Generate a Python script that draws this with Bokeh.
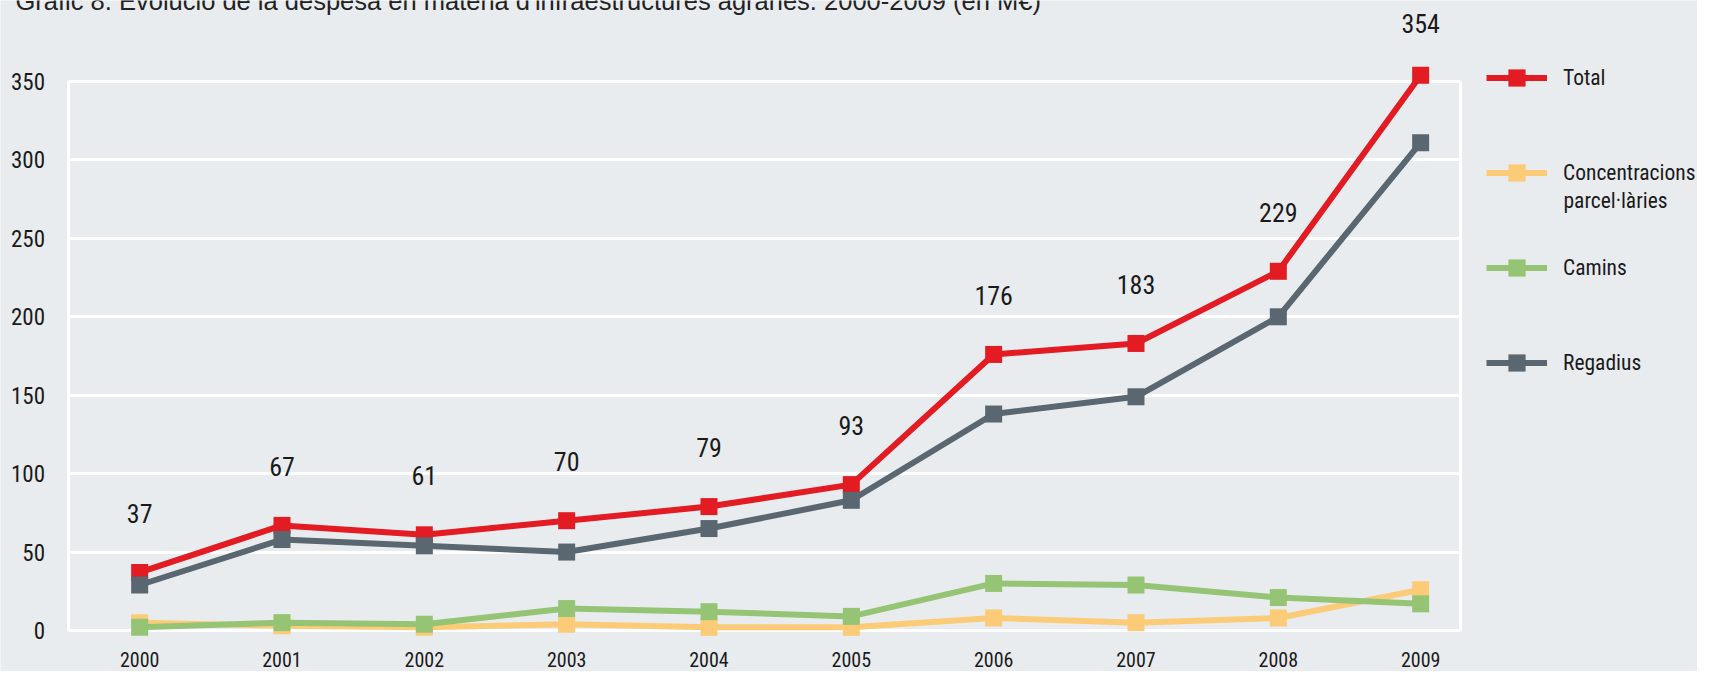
from bokeh.plotting import figure
from bokeh.models import (ColumnDataSource, LabelSet, Label, Legend, LegendItem,
                          FixedTicker, Range1d, Grid)
from bokeh.core.properties import value
from bokeh.embed import file_html
from bokeh.resources import INLINE

# ---- data ----
years = [2000, 2001, 2002, 2003, 2004, 2005, 2006, 2007, 2008, 2009]
year_labels = [str(y) for y in years]
total = [37, 67, 61, 70, 79, 93, 176, 183, 229, 354]
concentracions = [5, 3, 2, 4, 2, 2, 8, 5, 8, 26]
camins = [2, 5, 4, 14, 12, 9, 30, 29, 21, 17]
regadius = [29, 58, 54, 50, 65, 83, 138, 149, 200, 311]
total_labels = [str(v) for v in total]
y_ticks = [0, 50, 100, 150, 200, 250, 300, 350]
y_tick_labels = [str(v) for v in y_ticks]
title_text = "Gràfic 8. Evolució de la despesa en matèria d'infraestructures agràries. 2000-2009 (en M€)"

# ---- style / layout ----
NARROW = "Liberation Sans Narrow, Roboto Condensed, Open Sans Condensed, DejaVu Sans Condensed, Roboto"
BG = "#E9ECEF"
TXT = "#1A1A1A"
W, H = 1697, 671
BOX_L, BOX_R = 68, 1460            # grid box, canvas px
BOX_T, BOX_B = 81, 630
x_lo, x_hi = years[0] - 0.5, years[-1] + 0.28
y_lo, y_hi = 0, 350
ppx = (BOX_R - BOX_L) / (x_hi - x_lo)
ppy = (BOX_B - BOX_T) / (y_hi - y_lo)
x_start = x_lo - BOX_L / ppx
x_end = x_start + W / ppx
y_start = y_lo - (H - BOX_B) / ppy
y_end = y_hi + BOX_T / ppy

p = figure(frame_width=W, frame_height=H,
           min_border_left=0, min_border_right=0, min_border_top=0, min_border_bottom=0,
           x_range=Range1d(x_start, x_end), y_range=Range1d(y_start, y_end),
           x_axis_location=None, y_axis_location=None,
           output_backend="svg", toolbar_location=None)
p.background_fill_color = BG
p.border_fill_color = BG
p.outline_line_color = None

# grid box: horizontal lines at the y ticks + left/right edges
has_cross = "cross_bounds" in Grid.properties()
p.ygrid.ticker = FixedTicker(ticks=y_ticks)
p.xgrid.ticker = FixedTicker(ticks=[x_lo, x_hi])
if has_cross:
    for g, cb in ((p.ygrid[0], (x_lo, x_hi)), (p.xgrid[0], (y_lo, y_hi))):
        g.grid_line_color = "white"
        g.grid_line_width = 3
        g.cross_bounds = cb
else:
    p.xgrid.visible = False
    p.ygrid.visible = False
    p.segment(x0=[x_lo] * len(y_ticks), x1=[x_hi] * len(y_ticks), y0=y_ticks, y1=y_ticks,
              line_color="white", line_width=3, level="underlay")
    p.segment(x0=[x_lo, x_hi], x1=[x_lo, x_hi], y0=[y_lo, y_lo], y1=[y_hi, y_hi],
              line_color="white", line_width=3, level="underlay")

# y tick labels
ysrc = ColumnDataSource(dict(x=[x_lo] * len(y_ticks), y=y_ticks, t=y_tick_labels))
p.add_layout(LabelSet(x="x", y="y", text="t", source=ysrc, x_offset=-23.5,
                      text_align="right", text_baseline="middle",
                      text_font=value(NARROW), text_font_size=value("23px"),
                      text_color=TXT))
# x tick labels
xsrc = ColumnDataSource(dict(x=years, y=[y_lo] * len(years), t=year_labels))
p.add_layout(LabelSet(x="x", y="y", text="t", source=xsrc, y_offset=-29,
                      text_align="center", text_baseline="middle",
                      text_font=value(NARROW), text_font_size=value("20px"),
                      text_color=TXT))

series = [
    ("Total", total, "#E31B23"),
    ("Concentracions", concentracions, "#FBCB77"),
    ("Camins", camins, "#95C475"),
    ("Regadius", regadius, "#5A6770"),
]
items = []
for name, vals, col in series:
    src = ColumnDataSource(dict(x=years, y=vals))
    l = p.line("x", "y", source=src, line_color=col, line_width=6)
    s = p.scatter("x", "y", source=src, marker="square", size=17,
                  fill_color=col, line_color=None)
    items.append(LegendItem(label=name, renderers=[l, s]))

legend = Legend(items=items, location=(1486, 287),
                glyph_width=61, glyph_height=43, label_height=43, spacing=52,
                label_standoff=16, padding=0, margin=0,
                label_text_font=NARROW, label_text_font_size="21.5px",
                label_text_color=TXT, background_fill_alpha=0,
                border_line_color=None)
p.add_layout(legend)
p.add_layout(Label(x=1563, y=H - 200, x_units="screen", y_units="screen",
                   text="parcel·làries", text_font=NARROW, text_font_size="21.5px",
                   text_color=TXT, text_baseline="middle"))

# value labels above the Total series (kept inside the canvas)
label_top = (BOX_B - 23) / ppy
lab_y = [min(v + 59 / ppy, label_top) for v in total]
lab_src = ColumnDataSource(dict(x=years, y=lab_y, t=total_labels))
p.add_layout(LabelSet(x="x", y="y", text="t", source=lab_src,
                      text_align="center", text_baseline="middle",
                      text_font=value(NARROW), text_font_size=value("26px"),
                      text_color=TXT))

# title, cut by the top edge as in the source image
p.add_layout(Label(x=15, y=H - 0.5, x_units="screen", y_units="screen",
                   text=title_text, text_font="Liberation Sans", text_font_size="25.5px",
                   text_color="#222222", text_baseline="alphabetic"))

open("out.html", "w").write(file_html(p, INLINE))
